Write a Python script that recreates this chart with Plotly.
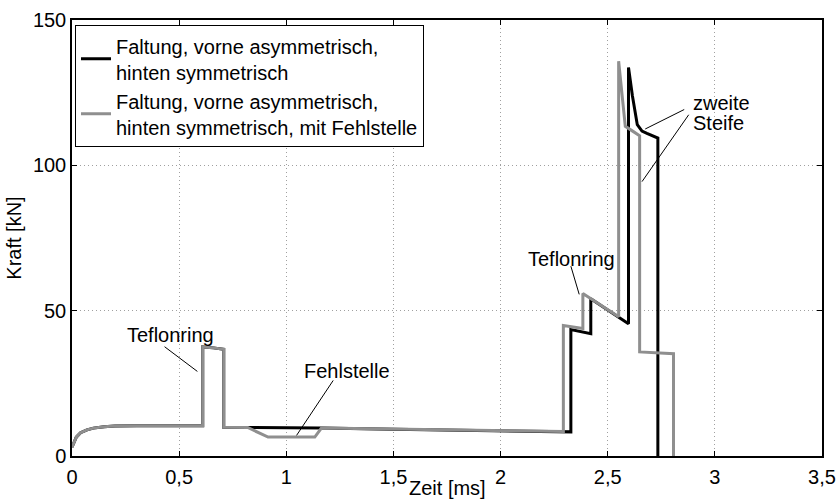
import plotly.graph_objects as go

# ---- data ----
t_sym = [0, 0.02, 0.04, 0.07, 0.10, 0.15, 0.20, 0.30, 0.61, 0.61, 0.66, 0.708, 0.708, 0.90, 1.16,
         1.50, 2.00, 2.328, 2.328, 2.421, 2.421, 2.597, 2.597, 2.615, 2.638, 2.66, 2.683, 2.734, 2.734]
f_sym = [3.0, 6.5, 8.0, 9.0, 9.6, 10.1, 10.3, 10.4, 10.4, 37.5, 37.2, 36.7, 9.9, 9.8, 9.6,
         9.2, 8.7, 8.3, 43.5, 42.1, 54.1, 45.5, 133.7, 124.0, 114.0, 111.8, 111.0, 109.4, 0.0]

t_fehl = [0, 0.02, 0.04, 0.07, 0.10, 0.15, 0.20, 0.30, 0.61, 0.61, 0.66, 0.708, 0.708, 0.82, 0.915,
          1.133, 1.164, 1.50, 2.00, 2.293, 2.293, 2.384, 2.384, 2.551, 2.551, 2.566, 2.582, 2.62, 2.649,
          2.649, 2.807, 2.807]
f_fehl = [3.0, 6.5, 8.0, 9.0, 9.6, 10.1, 10.3, 10.4, 10.4, 37.5, 37.2, 36.7, 9.9, 9.8, 6.5,
          6.5, 9.6, 9.2, 8.7, 8.4, 44.9, 43.9, 55.9, 47.9, 135.8, 124.0, 113.4, 111.6, 110.2,
          35.8, 35.2, 0.0]

names = ["Faltung, vorne asymmetrisch,<br>hinten symmetrisch",
         "Faltung, vorne asymmetrisch,<br>hinten symmetrisch, mit Fehlstelle"]

x_ticks = [0, 0.5, 1, 1.5, 2, 2.5, 3, 3.5]
x_ticktext = ["0", "0,5", "1", "1,5", "2", "2,5", "3", "3,5"]
y_ticks = [0, 50, 100, 150]
y_ticktext = ["0", "50", "100", "150"]

x_title = "Zeit [ms]"
y_title = "Kraft [kN]"

# annotation labels: (text, x, y, xanchor)
labels = [("Teflonring", 0.459, 41.5, "center"),
          ("Fehlstelle", 1.285, 29.1, "center"),
          ("Teflonring", 2.329, 67.8, "center"),
          ("zweite", 2.889, 121.6, "left"),
          ("Steife", 2.889, 114.6, "left")]
# leader lines: (x0, y0, x1, y1)
leaders = [(0.432, 37.6, 0.585, 29.1),
           (1.219, 26.0, 1.048, 7.1),
           (2.328, 65.3, 2.367, 55.6),
           (2.857, 119.2, 2.675, 112.5),
           (2.878, 117.4, 2.660, 94.4)]

FONT = "Liberation Sans, Arial, Helvetica, sans-serif"

fig = go.Figure()
fig.add_trace(go.Scatter(x=t_sym, y=f_sym, mode="lines", name=names[0],
                         line=dict(color="black", width=3)))
fig.add_trace(go.Scatter(x=t_fehl, y=f_fehl, mode="lines", name=names[1],
                         line=dict(color="#8f8f8f", width=3)))

for txt, x, y, xa in labels:
    fig.add_annotation(x=x, y=y, text=txt, showarrow=False, xanchor=xa, yanchor="middle",
                       font=dict(size=20, color="black", family=FONT))
for x0, y0, x1, y1 in leaders:
    fig.add_shape(type="line", x0=x0, y0=y0, x1=x1, y1=y1, xref="x", yref="y",
                  line=dict(color="black", width=1))

# x-axis title placed as an annotation just below the tick labels
fig.add_annotation(x=0.5, y=-0.074, xref="paper", yref="paper", text=x_title,
                   showarrow=False, xanchor="center", yanchor="middle",
                   font=dict(size=20, color="black", family=FONT))

axis_common = dict(showline=True, linecolor="black", linewidth=1.5, mirror="allticks",
                   ticks="inside", ticklen=5, tickcolor="black", automargin=False,
                   showgrid=True, gridcolor="#a0a0a0", griddash="1px,3px", gridwidth=1,
                   zeroline=False, tickfont=dict(size=20, color="black", family=FONT))

fig.update_layout(
    width=837, height=504,
    margin=dict(l=72, r=15, t=20, b=48, autoexpand=False),
    paper_bgcolor="white", plot_bgcolor="white",
    font=dict(family=FONT, size=20, color="black"),
    showlegend=True,
    legend=dict(x=0.004, y=0.988, xanchor="left", yanchor="top",
                bgcolor="white", bordercolor="black", borderwidth=1,
                font=dict(size=20, family=FONT), itemwidth=30,
                tracegroupgap=2),
    xaxis=dict(range=[0, 3.5], tickvals=x_ticks, ticktext=x_ticktext,
               ticklabelstandoff=2, **axis_common),
    yaxis=dict(range=[0, 150], tickvals=y_ticks, ticktext=y_ticktext,
               title=dict(text=y_title, standoff=6, font=dict(size=20)), **axis_common),
)

fig.write_html("out.html", config={"displayModeBar": False},
               post_script="document.body.style.margin='0px';document.body.style.overflow='hidden';")
